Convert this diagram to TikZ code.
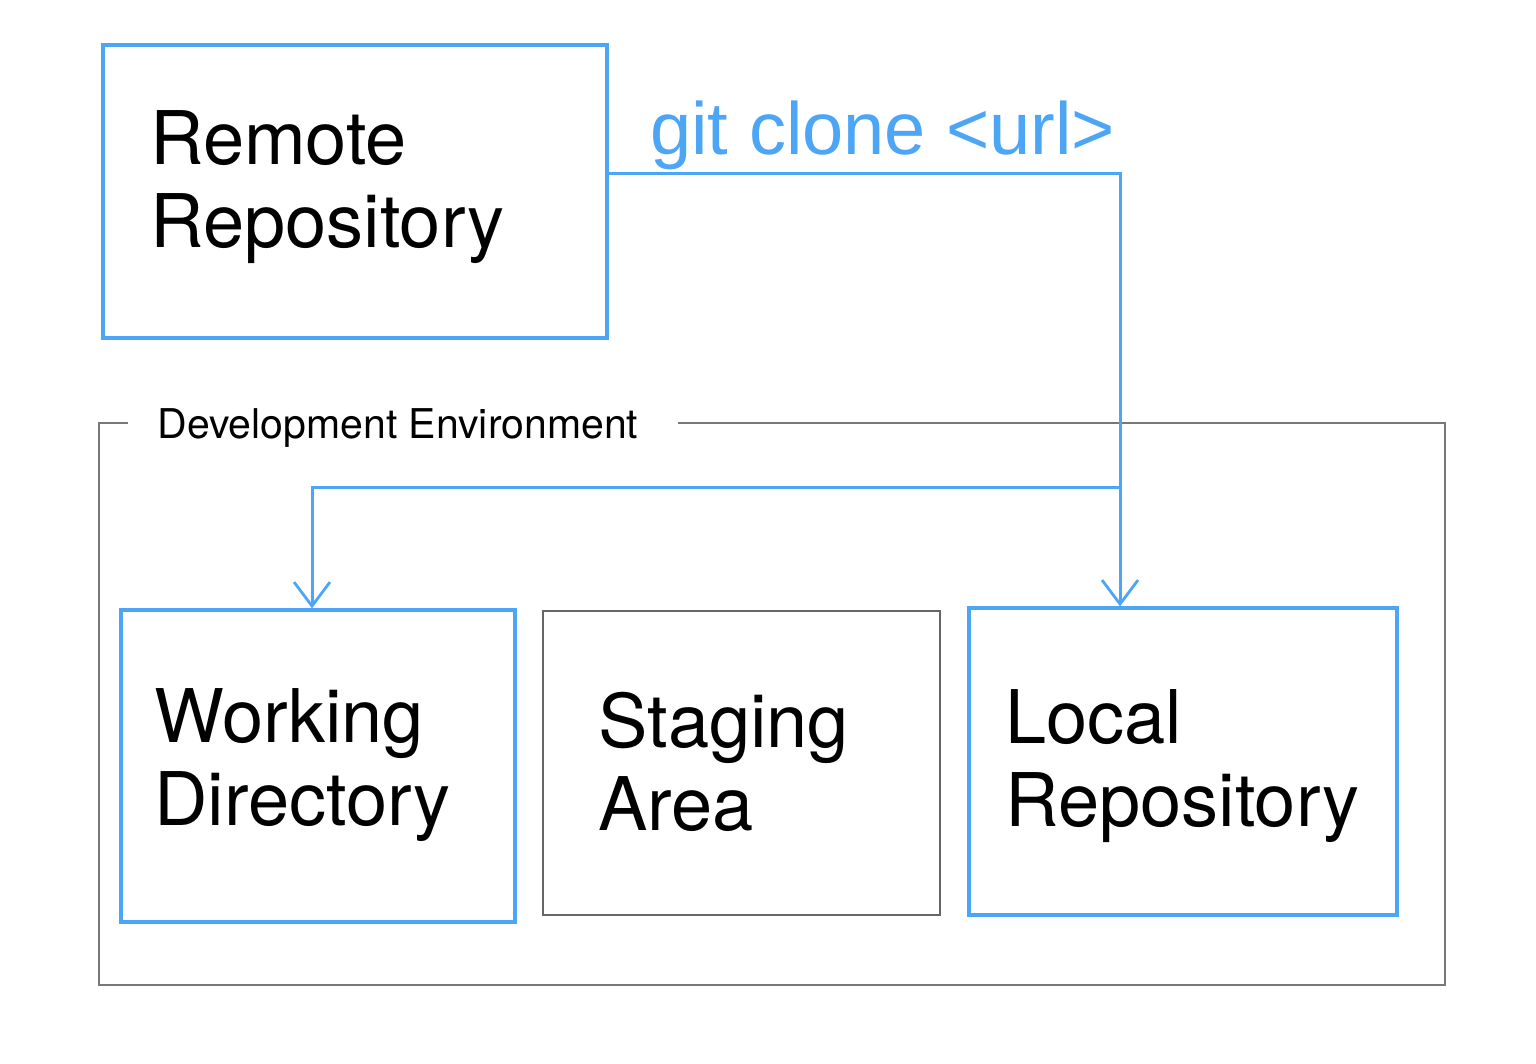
\documentclass[tikz,border=0pt]{standalone}
\usepackage{fontspec}
\setmainfont{TeX Gyre Heros}
\newfontfamily\clonefont{Liberation Sans}
\usetikzlibrary{arrows.meta}
\definecolor{gblue}{RGB}{77,166,245}
\definecolor{ggray}{RGB}{120,120,120}
\tikzset{
  bluebox/.style={draw=gblue, line width=1.6pt, rectangle, inner sep=0pt},
  graybox/.style={draw=ggray!85!black, line width=0.9pt, rectangle, inner sep=0pt},
  bigtext/.style={font=\fontsize{37}{41.5}\selectfont, align=left, inner sep=0pt, anchor=base west, text=black},
  conn/.style={draw=gblue, line width=1.5pt},
  arr/.style={conn, -{Straight Barb[length=12pt,width=18pt,line width=1.4pt]}},
}
\begin{document}
\begin{tikzpicture}[x=0.5pt,y=-0.5pt]
\useasboundingbox[fill=white] (0,0) rectangle (1536,1064);
% boxes
\node[bluebox, minimum width=252pt, minimum height=146.5pt] (remote) at (355,191.5) {};
\node[bluebox, minimum width=197pt, minimum height=156pt] (work) at (318,766) {};
\node[graybox, minimum width=198.5pt, minimum height=152pt] (stage) at (741.5,763) {};
\node[bluebox, minimum width=214pt, minimum height=153.5pt] (local) at (1183,761.5) {};
% texts (anchor at baseline of last line)
\node[bigtext] (remotetxt) at (150,248) {Remote\\Repository};
\node[bigtext] (worktxt) at (154,825) {Working\\Directory};
\node[bigtext] (stagetxt) at (598,830) {Staging\\Area};
\node[bigtext] (localtxt) at (1005,826) {Local\\Repository};
\node[font=\clonefont\fontsize{37}{41.5}\selectfont, text=gblue, inner sep=0pt, anchor=base west] (clone) at (650,155) {git clone <url>};
% environment frame
\node[font=\fontsize{20.5}{24}\selectfont, inner sep=0pt, anchor=base west] (envlbl) at (157,438) {Development Environment};
\draw[ggray, line width=0.9pt] (128,423) -- (99,423) -- (99,985) -- (1445,985) -- (1445,423) -- (678,423);
% connectors
\coordinate (corner) at (1120,174);
\coordinate (junction) at (1120,487);
\coordinate (wx) at (312,0);
\draw[arr] (remote.east |- corner) -- (corner) -- (local.north -| corner);
\draw[arr] (junction) -| (work.north -| wx);
\end{tikzpicture}
\end{document}
